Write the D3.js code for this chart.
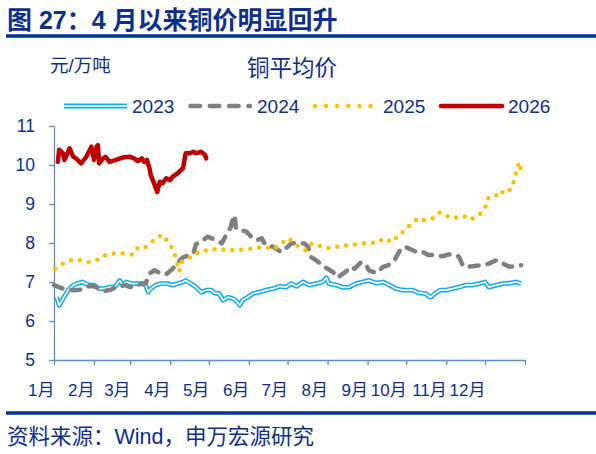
<!DOCTYPE html>
<html>
<head>
<meta charset="utf-8">
<script src="https://cdn.jsdelivr.net/npm/d3@7"></script>
<style>
  body { margin: 0; background: #fff; }
  text { font-family: "Liberation Sans", Arial, "Noto Sans CJK SC", sans-serif; fill: #0e2f8c; }
</style>
</head>
<body>
<div id="chart"></div>
<script>
// month labels and y ticks
const monthLabels = ["1月", "2月", "3月", "4月", "5月", "6月", "7月", "8月", "9月", "10月", "11月", "12月"];
const yTicks = [5, 6, 7, 8, 9, 10, 11];

// copper average price, 万元/吨 (MM-DD on a common year)
const dates2023 = [
  "01-03","01-05","01-08","01-12","01-16","01-19","01-23","01-28",
  "02-01","02-05","02-09","02-13","02-17","02-21","02-23","02-26",
  "03-02","03-06","03-10","03-13","03-15","03-17","03-21","03-25","03-30",
  "04-03","04-07","04-11","04-13","04-17","04-21","04-25","04-29",
  "05-03","05-05","05-09","05-12","05-16","05-20","05-23","05-25","05-27","05-31",
  "06-04","06-09","06-14","06-20","06-25","06-30",
  "07-04","07-08","07-13","07-18","07-23","07-28","07-31",
  "08-02","08-08","08-13","08-18","08-23","08-28",
  "09-02","09-08","09-13","09-18","09-23","09-28",
  "10-06","10-11","10-16","10-20","10-23","10-27",
  "11-01","11-06","11-11","11-16","11-21","11-27",
  "12-01","12-04","12-10","12-15","12-20","12-25","12-29"];
const price2023 = [
  6.61, 6.40, 6.57, 6.79, 6.92, 6.96, 7.00, 6.92,
  6.92, 6.83, 6.83, 6.87, 6.87, 7.04, 6.92, 7.00,
  6.96, 6.96, 6.96, 6.92, 6.74, 6.83, 6.92, 6.96, 6.96,
  6.92, 6.96, 7.00, 7.04, 6.96, 6.87, 6.74, 6.79,
  6.79, 6.72, 6.70, 6.53, 6.61, 6.57, 6.49, 6.40, 6.53, 6.61,
  6.70, 6.74, 6.79, 6.83, 6.89, 6.87,
  6.96, 6.89, 7.00, 6.92, 6.96, 7.00, 7.11,
  6.96, 6.92, 6.86, 6.87, 6.96, 7.00,
  7.04, 6.97, 7.00, 6.92, 6.83, 6.79,
  6.79, 6.72, 6.70, 6.61, 6.70, 6.79,
  6.79, 6.83, 6.87, 6.92, 6.92, 6.96,
  7.00, 6.87, 6.92, 6.96, 6.97, 7.00, 6.96];

const dates2024 = [
  "01-01","01-08","01-16","01-21","01-27",
  "02-01","02-05","02-09","02-14","02-18","02-25",
  "03-01","03-06","03-11","03-13","03-16","03-20","03-24","03-29",
  "04-03","04-07","04-11","04-16","04-19","04-21","04-25","04-30",
  "05-07","05-11","05-15","05-18","05-20","05-21","05-22","05-26","05-30",
  "06-03","06-07","06-11","06-14","06-20","06-26",
  "07-01","07-04","07-09","07-14","07-17","07-19","07-23","07-28",
  "08-01","08-05","08-09","08-11","08-15","08-19","08-22","08-27","08-31",
  "09-02","09-08","09-13","09-17","09-22","09-24","09-27","09-30",
  "10-03","10-09","10-14","10-18","10-24","10-29",
  "11-03","11-09","11-11","11-14","11-20","11-27",
  "12-04","12-10","12-15","12-20","12-29"];
const price2024 = [
  6.92, 6.83, 6.79, 6.80, 6.89,
  6.89, 6.83, 6.77, 6.80, 6.87, 6.92,
  6.87, 6.92, 6.96, 6.96, 7.22, 7.30, 7.23, 7.20,
  7.34, 7.51, 7.63, 7.69, 7.73, 7.97, 8.03, 8.16,
  8.07, 7.99, 8.24, 8.41, 8.67, 8.71, 8.37, 8.33, 8.29,
  8.16, 8.07, 8.12, 7.94, 7.90, 7.77,
  7.90, 8.00, 7.99, 7.99, 7.90, 7.64, 7.56, 7.43,
  7.34, 7.26, 7.11, 7.17, 7.26, 7.39, 7.34, 7.51, 7.43,
  7.30, 7.23, 7.39, 7.43, 7.56, 7.69, 7.86, 7.90,
  7.86, 7.77, 7.77, 7.69, 7.69, 7.66,
  7.71, 7.69, 7.64, 7.40, 7.40, 7.43,
  7.47, 7.56, 7.47, 7.39, 7.43];

const dates2025 = [
  "01-02","01-09","01-16","01-21","01-28",
  "02-05","02-11","02-17","02-23",
  "03-03","03-07","03-12","03-17","03-22","03-26","03-31",
  "04-04","04-06","04-08","04-10","04-13","04-19","04-25",
  "05-01","05-08","05-14","05-22","05-29",
  "06-05","06-13","06-20","06-26",
  "07-02","07-08","07-15","07-20","07-28",
  "08-04","08-10","08-17","08-24",
  "09-01","09-08","09-14","09-20","09-24","09-29",
  "10-05","10-10","10-14","10-19","10-23","10-27",
  "11-03","11-07","11-14","11-20","11-27",
  "12-01","12-03","12-09","12-12","12-17","12-22","12-24","12-26","12-28","12-29"];
const price2025 = [
  7.34, 7.49, 7.58, 7.56, 7.51,
  7.58, 7.71, 7.73, 7.73,
  7.70, 7.88, 7.87, 8.01, 8.14, 8.21, 7.99,
  7.81, 7.52, 7.27, 7.51, 7.58, 7.66, 7.81,
  7.81, 7.86, 7.81, 7.83, 7.83,
  7.87, 7.90, 7.84, 7.99,
  8.12, 7.94, 7.81, 7.99, 7.90,
  7.86, 7.92, 7.94, 7.97,
  8.01, 8.00, 8.12, 8.02, 8.17, 8.30,
  8.50, 8.63, 8.59, 8.60, 8.66, 8.79,
  8.67, 8.64, 8.70, 8.60, 8.74,
  8.89, 9.14, 9.19, 9.34, 9.26, 9.42, 9.66, 9.96, 10.07, 9.79];

const dates2026 = [
  "01-04","01-05","01-08","01-09","01-12","01-13","01-16","01-18","01-22","01-26","01-28","01-30",
  "02-01","02-03","02-04","02-05","02-08","02-10","02-13","02-18","02-23",
  "03-01","03-04","03-07","03-10","03-12","03-14","03-16","03-17","03-20","03-22","03-24","03-26","03-29",
  "04-01","04-03","04-07","04-11","04-13","04-16","04-19","04-21","04-25","04-28","04-29"];
const price2026 = [
  10.08, 10.39, 10.30, 10.13, 10.34, 10.43, 10.21, 10.17, 10.04, 10.21, 10.34, 10.47,
  10.13, 10.47, 10.51, 10.04, 10.17, 10.21, 10.08, 10.13, 10.19,
  10.21, 10.17, 10.10, 10.17, 10.08, 10.13, 9.92, 9.74, 9.49, 9.31, 9.57, 9.53, 9.66,
  9.61, 9.70, 9.79, 9.92, 10.30, 10.30, 10.34, 10.30, 10.34, 10.26, 10.17];

const width = 596, height = 454;
const axisColor = "#5f8dcc";

const parseDay = d3.timeParse("%m-%d");
const toPoints = (dates, values) => d3.zip(dates, values).map(([d, v]) => ({ date: parseDay(d), value: v }));

const svg = d3.select("#chart")
  .append("svg")
    .attr("width", width)
    .attr("height", height);

svg.append("rect").attr("width", width).attr("height", height).attr("fill", "#fff");

// scales: one common (non-leap) year on x
const yearStart = new Date(1900, 0, 1), yearEnd = new Date(1901, 0, 1);
const x = d3.scaleTime().domain([yearStart, yearEnd]).range([54, 525]);
const y = d3.scaleLinear().domain([5, 11]).range([360, 126]);

// header
svg.append("text")
  .attr("x", 7).attr("y", 29)
  .style("font-size", "25px").style("font-weight", "bold")
  .text("图 27：4 月以来铜价明显回升");
svg.append("line")
  .attr("x1", 6).attr("x2", 596).attr("y1", 36).attr("y2", 36)
  .attr("stroke", "#003399").attr("stroke-width", 3.5);

svg.append("text").attr("x", 50).attr("y", 72).style("font-size", "18.5px").text("元/万吨");
svg.append("text").attr("x", 247).attr("y", 76).style("font-size", "22.5px").text("铜平均价");

// axes
const xAxis = svg.append("g")
  .attr("transform", `translate(0,${y(5)})`)
  .call(d3.axisBottom(x)
    .tickValues(d3.timeMonth.range(yearStart, new Date(1901, 0, 2)))
    .tickSize(5).tickSizeOuter(0)
    .tickFormat((d, i) => i < monthLabels.length ? monthLabels[i] : ""));
xAxis.selectAll(".tick text")
  .attr("text-anchor", "end").attr("x", 0).attr("y", 36).attr("dy", null)
  .style("font-size", "17px");

const yAxis = svg.append("g")
  .attr("transform", `translate(${x(yearStart)},0)`)
  .call(d3.axisLeft(y).tickValues(yTicks).tickFormat(d3.format("d"))
    .tickSize(5).tickSizeOuter(0).tickPadding(14));
yAxis.selectAll(".tick text").style("font-size", "17.5px");

svg.selectAll(".domain, .tick line").attr("stroke", axisColor).attr("stroke-width", 1.3);

// series
const line = d3.line().x(d => x(d.date)).y(d => y(d.value));

const s2023 = toPoints(dates2023, price2023);
const s2024 = toPoints(dates2024, price2024);
const s2025 = toPoints(dates2025, price2025);
const s2026 = toPoints(dates2026, price2026);

const plot = svg.append("g").attr("fill", "none").attr("stroke-linejoin", "round");

plot.append("path").datum(s2023).attr("d", line)
  .attr("stroke", "#12aaee").attr("stroke-width", 4.8);
plot.append("path").datum(s2023).attr("d", line)
  .attr("stroke", "#fff").attr("stroke-width", 1.7);

plot.append("path").datum(s2024).attr("d", line)
  .attr("stroke", "#808080").attr("stroke-width", 4.5)
  .attr("stroke-linecap", "round").attr("stroke-dasharray", "9,9");

plot.append("path").datum(s2025).attr("d", line)
  .attr("stroke", "#ffc000").attr("stroke-width", 4.5)
  .attr("stroke-linecap", "round").attr("stroke-dasharray", "0,9");

plot.append("path").datum(s2026).attr("d", line)
  .attr("stroke", "#c00000").attr("stroke-width", 4.5)
  .attr("stroke-linecap", "round");

// legend
const legendY = 106;
const leg = svg.append("g").attr("fill", "none");

leg.append("line").attr("x1", 64).attr("x2", 127).attr("y1", legendY).attr("y2", legendY)
  .attr("stroke", "#12aaee").attr("stroke-width", 4.8);
leg.append("line").attr("x1", 64).attr("x2", 127).attr("y1", legendY).attr("y2", legendY)
  .attr("stroke", "#fff").attr("stroke-width", 1.7);
leg.append("line").attr("x1", 190.5).attr("x2", 250).attr("y1", legendY).attr("y2", legendY)
  .attr("stroke", "#808080").attr("stroke-width", 4.5)
  .attr("stroke-linecap", "round").attr("stroke-dasharray", "9.5,9.8");
leg.append("line").attr("x1", 315).attr("x2", 372).attr("y1", legendY).attr("y2", legendY)
  .attr("stroke", "#ffc000").attr("stroke-width", 4.5)
  .attr("stroke-linecap", "round").attr("stroke-dasharray", "0,11.1");
leg.append("line").attr("x1", 441).attr("x2", 502).attr("y1", legendY).attr("y2", legendY)
  .attr("stroke", "#c00000").attr("stroke-width", 4.5).attr("stroke-linecap", "round");

const legendLabels = ["2023", "2024", "2025", "2026"];
const legendTextX = [132, 257, 383, 508];
legendLabels.forEach((t, i) => {
  svg.append("text").attr("x", legendTextX[i]).attr("y", legendY + 7)
    .style("font-size", "19px").text(t);
});

// footer
svg.append("line")
  .attr("x1", 6).attr("x2", 596).attr("y1", 413).attr("y2", 413)
  .attr("stroke", "#003399").attr("stroke-width", 3.5);
svg.append("text").attr("x", 7).attr("y", 444)
  .style("font-size", "21.5px")
  .text("资料来源：Wind，申万宏源研究");
</script>
</body>
</html>
